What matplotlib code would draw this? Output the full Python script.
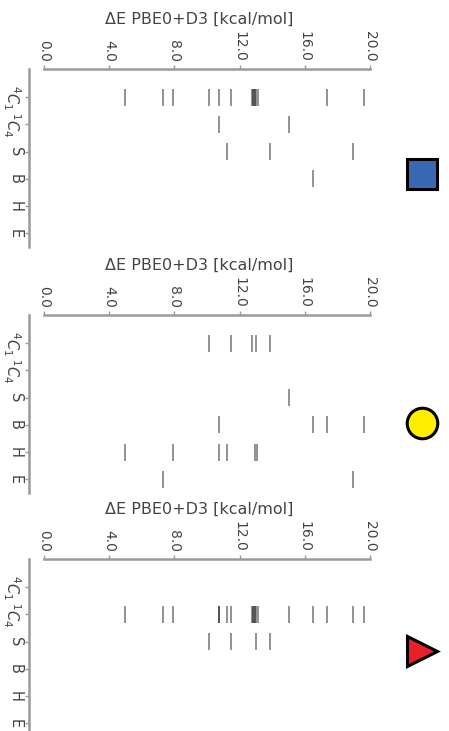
import matplotlib
matplotlib.use("Agg")
import matplotlib.pyplot as plt

categories = [r"$^4C_1$", r"$^1C_4$", "S", "B", "H", "E"]
xticks = [0.0, 4.0, 8.0, 12.0, 16.0, 20.0]
xlabel = "ΔE PBE0+D3 [kcal/mol]"

# panel 1 (blue square)
p1_4C1 = [5.0, 7.32, 7.91, 10.14, 10.76, 11.49, 12.75, 12.85, 12.9, 12.95, 13.0, 13.1,
          17.38, 19.63]
p1_1C4 = [10.76, 15.05]
p1_S = [11.2, 13.87, 18.98]
p1_B = [16.52]
p1_H = []
p1_E = []

# panel 2 (yellow circle)
p2_4C1 = [10.14, 11.49, 12.74, 13.0, 13.87]
p2_1C4 = []
p2_S = [15.05]
p2_B = [10.76, 16.52, 17.38, 19.63]
p2_H = [5.0, 7.91, 10.76, 11.2, 12.95, 13.05]
p2_E = [7.32, 18.98]

# panel 3 (red triangle)
p3_4C1 = []
p3_1C4 = [5.0, 7.32, 7.91, 10.76, 10.76, 11.2, 11.49, 12.75, 12.85, 12.9, 12.95, 13.0,
          13.1, 15.05, 16.52, 17.38, 18.98, 19.63]
p3_S = [10.14, 11.49, 13.0, 13.87]
p3_B = []
p3_H = []
p3_E = []

panels = [
    ([p1_4C1, p1_1C4, p1_S, p1_B, p1_H, p1_E], "s", "#3a68b4", 0.41),
    ([p2_4C1, p2_1C4, p2_S, p2_B, p2_H, p2_E], "o", "#ffee00", 0.393),
    ([p3_4C1, p3_1C4, p3_S, p3_B, p3_H, p3_E], ">", "#e8202a", 0.483),
]

W, H = 449, 731
fig = plt.figure(figsize=(W / 100, H / 100), dpi=100)

tops = [69, 315, 559]
left_px, right_px = 29, 370
height_px = 178
spine_col = "#9a9a9a"
text_col = "#444444"

for (rows, marker, mcol, my), top in zip(panels, tops):
    ax = fig.add_axes([left_px / W, 1 - (top + height_px) / H,
                       (right_px - left_px) / W, height_px / H])
    for i, vals in enumerate(rows):
        if vals:
            ax.vlines(vals, i - 0.31, i + 0.31, color="black", alpha=0.5, lw=1.2)
    ax.set_xlim(-0.92, 20.0)
    ax.set_ylim(5.5, -1.03)
    ax.xaxis.tick_top()
    ax.xaxis.set_label_position("top")
    ax.set_xticks(xticks)
    ax.set_xticklabels([f"{v:.1f}" for v in xticks], rotation=-90)
    ax.set_yticks(range(len(categories)))
    ax.set_yticklabels(categories, rotation=-90, va="center")
    ax.set_xlabel(xlabel, fontsize=11.5, color=text_col, labelpad=5)
    for s in ["right", "bottom"]:
        ax.spines[s].set_visible(False)
    ax.spines["top"].set_bounds(0, 20)
    ax.spines["top"].set_color(spine_col)
    ax.spines["top"].set_linewidth(1.8)
    ax.spines["left"].set_color(spine_col)
    ax.spines["left"].set_linewidth(1.8)
    ax.tick_params(axis="x", length=3, width=1, color=spine_col, labelsize=10,
                   labelcolor=text_col, pad=2)
    ax.tick_params(axis="y", length=3, width=1, color=spine_col, labelsize=10.5,
                   labelcolor=text_col, pad=1.5)
    ax.plot([1.152], [my], marker=marker, markersize=22, markerfacecolor=mcol,
            markeredgecolor="black", markeredgewidth=2.2, transform=ax.transAxes,
            clip_on=False, linestyle="none")

fig.savefig("out.png", dpi=100)
